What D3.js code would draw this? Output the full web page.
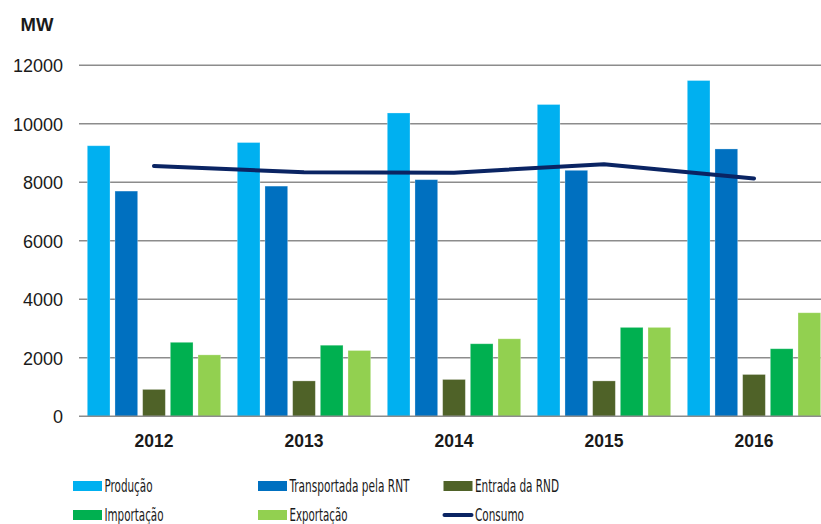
<!DOCTYPE html>
<html>
<head>
<meta charset="utf-8">
<script src="https://cdn.jsdelivr.net/npm/d3@7"></script>
<style>
  html, body { margin: 0; padding: 0; background: #fff; }
  svg { display: block; }
</style>
</head>
<body>
<svg id="chart" width="821" height="524"></svg>
<script>
const years = ["2012", "2013", "2014", "2015", "2016"];
const seriesNames = ["Produção", "Transportada pela RNT", "Entrada da RND", "Importação", "Exportação"];
const producao      = [9250, 9360, 10370, 10660, 11480];
const transportada  = [7700, 7870, 8090, 8410, 9140];
const entrada       = [920, 1210, 1260, 1210, 1430];
const importacao    = [2530, 2430, 2480, 3040, 2310];
const exportacao    = [2100, 2250, 2650, 3040, 3540];
const consumo       = [8560, 8340, 8330, 8620, 8130];
const yTicks = [0, 2000, 4000, 6000, 8000, 10000, 12000];
const colors = ["#00B0F0", "#0070C0", "#4F6228", "#00B050", "#92D050"];
const lineColor = "#0A2463";

const seriesValues = [producao, transportada, entrada, importacao, exportacao];

const svg = d3.select("#chart");
const plotLeft = 79, plotRight = 829, plotTop = 65.3, plotBottom = 416.3;

const x0 = d3.scaleBand().domain(years).range([plotLeft, plotRight]);
const x1 = d3.scaleBand().domain(d3.range(5)).range([0, x0.bandwidth()])
  .paddingInner(0.18).paddingOuter(0.3);
const y = d3.scaleLinear().domain([0, 12000]).range([plotBottom, plotTop]);

// gridlines
svg.append("g").selectAll("line").data(yTicks.filter(d => d > 0)).join("line")
  .attr("x1", plotLeft).attr("x2", plotRight)
  .attr("y1", d => y(d)).attr("y2", d => y(d))
  .attr("stroke", "#8c8c8c").attr("stroke-width", 1.5);

// y axis labels
const yAxis = d3.axisLeft(y).tickValues(yTicks).tickSize(0).tickPadding(0).tickFormat(d3.format("d"));
const ya = svg.append("g").attr("transform", "translate(63,0)").call(yAxis);
ya.select(".domain").remove();
ya.selectAll("text").attr("font-family", "Liberation Sans, Arial, sans-serif")
  .attr("font-size", 18).attr("fill", "#1a1a1a").attr("dy", "0.36em");

svg.append("text").attr("x", 20.5).attr("y", 30.7).text("MW")
  .attr("font-family", "Liberation Sans, Arial, sans-serif").attr("font-weight", "bold")
  .attr("font-size", 18.5).attr("fill", "#1a1a1a");

// bars
const groups = svg.append("g").selectAll("g").data(years).join("g")
  .attr("transform", d => `translate(${x0(d)},0)`);
groups.selectAll("rect").data((d, i) => seriesValues.map((s, k) => ({k, v: s[i]}))).join("rect")
  .attr("x", d => x1(d.k)).attr("width", x1.bandwidth())
  .attr("y", d => y(d.v)).attr("height", d => plotBottom - y(d.v))
  .attr("fill", d => colors[d.k])
  .attr("stroke", "rgba(255,255,255,0.35)").attr("stroke-width", 0.8);

// zero axis line
svg.append("line").attr("x1", plotLeft).attr("x2", plotRight).attr("y1", plotBottom).attr("y2", plotBottom)
  .attr("stroke", "#8c8c8c").attr("stroke-width", 1.5);

// x axis labels
const xAxis = d3.axisBottom(x0).tickSize(0).tickPadding(0);
const xa = svg.append("g").attr("transform", `translate(0,${plotBottom})`).call(xAxis);
xa.select(".domain").remove();
xa.selectAll("text").attr("font-family", "Liberation Sans, Arial, sans-serif")
  .attr("font-weight", "bold").attr("font-size", 17.5).attr("fill", "#1a1a1a")
  .attr("dy", null).attr("y", 30.5);

// consumo line
const line = d3.line().x((d, i) => x0(years[i]) + x0.bandwidth() / 2).y(d => y(d));
svg.append("path").datum(consumo).attr("d", line)
  .attr("fill", "none").attr("stroke", lineColor).attr("stroke-width", 4)
  .attr("stroke-linecap", "round").attr("stroke-linejoin", "round");

// legend
const legendItems = [
  {name: seriesNames[0], color: colors[0], type: "rect", x: 73, y: 486, w: 48},
  {name: seriesNames[1], color: colors[1], type: "rect", x: 258, y: 486, w: 120},
  {name: seriesNames[2], color: colors[2], type: "rect", x: 443.5, y: 486, w: 84},
  {name: seriesNames[3], color: colors[3], type: "rect", x: 73, y: 515, w: 59},
  {name: seriesNames[4], color: colors[4], type: "rect", x: 258, y: 515, w: 58},
  {name: "Consumo", color: lineColor, type: "line", x: 443.5, y: 515, w: 49}
];
const lg = svg.append("g").selectAll("g").data(legendItems).join("g")
  .attr("transform", d => `translate(${d.x},${d.y})`);
lg.filter(d => d.type === "rect").append("rect")
  .attr("x", 0).attr("y", -5).attr("width", 29).attr("height", 10)
  .attr("fill", d => d.color);
lg.filter(d => d.type === "line").append("line")
  .attr("x1", 1).attr("x2", 28).attr("y1", 0).attr("y2", 0)
  .attr("stroke", d => d.color).attr("stroke-width", 4).attr("stroke-linecap", "round");
lg.append("text").attr("x", 31.5).attr("y", 6).text(d => d.name)
  .attr("font-family", "DejaVu Sans Condensed, DejaVu Sans, sans-serif")
  .attr("font-size", 17).attr("fill", "#1a1a1a")
  .attr("textLength", d => d.w).attr("lengthAdjust", "spacingAndGlyphs");
</script>
</body>
</html>
